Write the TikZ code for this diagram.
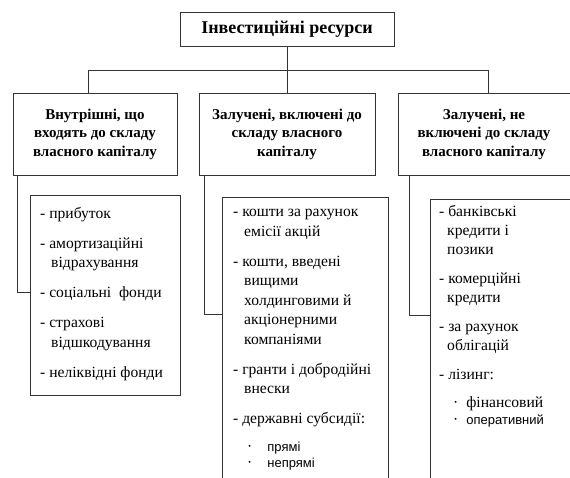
\documentclass[tikz,border=0pt]{standalone}
\usepackage{fontspec}
\setmainfont{Liberation Serif}
\newfontfamily\bulletfont{Liberation Sans}
\usetikzlibrary{positioning,calc}
\newcommand{\subline}{\hspace*{11pt}}
\newcommand{\dotline}[2]{\hspace*{14pt}\textperiodcentered\hspace*{#1}{\bulletfont\fontsize{13}{16}\selectfont#2}}

\begin{document}
\begin{tikzpicture}[x=1pt, y=-1pt,
  box/.style={draw=black!80, line width=0.8pt, inner sep=0pt},
  title box/.style={box, minimum width=214, minimum height=34, font=\bfseries\fontsize{18}{20}\selectfont},
  head box/.style={box, minimum height=82, align=center, font=\bfseries\fontsize{15}{18.5}\selectfont},
  list box/.style={box, anchor=north west},
  list text/.style={anchor=north west, inner sep=0pt, align=left, font=\fontsize{15.6}{19.5}\selectfont},
  connect/.style={draw=black!80, line width=0.8pt}]

  \useasboundingbox (0,0) rectangle (570,477);
  \clip (0,0) rectangle (570,477);

  % Top level
  \node[title box] (res) at (287,29) {Інвестиційні ресурси};

  % Three groups
  \node[head box, minimum width=164] (own) at (95,134) {Внутрішні, що\\входять до складу\\власного капіталу};
  \node[head box, minimum width=176] (inc) at (287,134) {Залучені, включені до\\складу власного\\капіталу};
  \node[head box, minimum width=172] (exc) at (484,134) {Залучені, не\\включені до складу\\власного капіталу};

  % Bus line
  \coordinate (busL) at (88,70);
  \coordinate (busR) at (488,70);
  \draw[connect] (res.south) -- (inc.north);
  \draw[connect] (own.north -| busL) -- (busL) -- (busR) -- (exc.north -| busR);

  % Lists
  \node[list box, minimum width=150, minimum height=200] (ownbox) at (30,195) {};
  \node[list box, minimum width=166, minimum height=300] (incbox) at (222,197) {};
  \node[list box, minimum width=150, minimum height=300] (excbox) at (430,199) {};

  \node[list text] (ownlist) at ($(ownbox.north west)+(10,12)$) {%
    - прибуток\\[10.5pt]
    - амортизаційні\\
    \subline відрахування\\[10.5pt]
    - соціальні\ \ фонди\\[10.5pt]
    - страхові\\
    \subline відшкодування\\[10.5pt]
    - неліквідні фонди};

  \node[list text] (inclist) at ($(incbox.north west)+(11,12)$) {%
    - кошти за рахунок\\
    \subline емісії акцій\\[10.5pt]
    - кошти, введені\\
    \subline вищими\\
    \subline холдинговими й\\
    \subline акціонерними\\
    \subline компаніями\\[10.5pt]
    - гранти і добродійні\\
    \subline внески\\[10.5pt]
    - державні субсидії:\\[8pt]
    \dotline{15pt}{прямі}\\[-3pt]
    \dotline{15pt}{непрямі}};

  \node[list text, font=\fontsize{15.6}{19}\selectfont] (exclist) at ($(excbox.north west)+(9,6)$) {%
    - банківські\\
    \hspace*{8pt}кредити і\\
    \hspace*{8pt}позики\\[10pt]
    -\ комерційні\\
    \hspace*{8pt}кредити\\[10pt]
    -\ за рахунок\\
    \hspace*{8pt}облігацій\\[10pt]
    -\ лізинг:\\[9pt]
    {\hspace*{14pt}\textperiodcentered\hspace*{8pt}фінансовий}\\[-2pt]
    \dotline{8pt}{оперативний}};

  % Links to lists
  \coordinate (ownjoin) at (17,292);
  \coordinate (incjoin) at (204,314);
  \coordinate (excjoin) at (409,315);
  \draw[connect] (own.south -| ownjoin) |- (ownbox.west |- ownjoin);
  \draw[connect] (inc.south -| incjoin) |- (incbox.west |- incjoin);
  \draw[connect] (exc.south -| excjoin) |- (excbox.west |- excjoin);

\end{tikzpicture}
\end{document}
